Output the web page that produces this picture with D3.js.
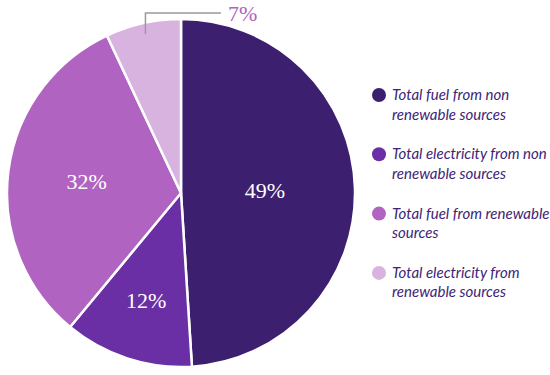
<!DOCTYPE html>
<html>
<head>
<meta charset="utf-8">
<script src="https://cdn.jsdelivr.net/npm/d3@7"></script>
<style>
  body { margin: 0; background: #fff; }
</style>
</head>
<body>
<script>
// Data
const categories = [
  "Total fuel from non renewable sources",
  "Total electricity from non renewable sources",
  "Total fuel from renewable sources",
  "Total electricity from renewable sources"
];
const values = [49, 12, 32, 7];
const legendLines = [
  ["Total fuel from non", "renewable sources"],
  ["Total electricity from non", "renewable sources"],
  ["Total fuel from renewable", "sources"],
  ["Total electricity from", "renewable sources"]
];

// Constants
const width = 550;
const height = 375;
const cx = 181;
const cy = 193;
const radius = 174;
const colors = ["#3d1f70", "#6a2ea5", "#b063c1", "#d9b3e0"];
const legendColor = "#3d2476";
// Label distance from the centre for each inside slice
const labelRadius = [84, 113, 95];

const svg = d3.select("body").append("svg")
  .attr("width", width)
  .attr("height", height);

const color = d3.scaleOrdinal().domain(categories).range(colors);

const pie = d3.pie().sort(null).value(d => d.value);
const arcs = pie(categories.map((c, i) => ({category: c, value: values[i]})));

const arc = d3.arc().innerRadius(0).outerRadius(radius);

const g = svg.append("g").attr("transform", `translate(${cx},${cy})`);

g.selectAll("path")
  .data(arcs)
  .join("path")
  .attr("d", arc)
  .attr("fill", d => color(d.data.category))
  .attr("stroke", "#fff")
  .attr("stroke-width", 2.5)
  .attr("stroke-linejoin", "round");

// Inside labels
g.selectAll("text.inside")
  .data(arcs.filter(d => d.data.value > 10))
  .join("text")
  .attr("class", "inside")
  .attr("transform", (d, i) => {
    const a = (d.startAngle + d.endAngle) / 2;
    const r = labelRadius[i];
    return `translate(${r * Math.sin(a)},${-r * Math.cos(a)})`;
  })
  .attr("text-anchor", "middle")
  .attr("dy", "0.35em")
  .attr("fill", "#fff")
  .style("font-family", "'Liberation Serif', serif")
  .style("font-size", "22px")
  .text(d => d.data.value + "%");

// Outside label with leader line for the small slice
const small = arcs.filter(d => d.data.value <= 10);
small.forEach(d => {
  const a = (d.startAngle + d.endAngle) / 2;
  const x0 = 163 * Math.sin(a);
  const y0 = -163 * Math.cos(a);
  const yTop = -radius - 6;
  const xEnd = 40;
  g.append("path")
    .attr("d", `M${x0},${y0}V${yTop}H${xEnd}`)
    .attr("fill", "none")
    .attr("stroke", "#9a9a9a")
    .attr("stroke-width", 1.5);
  g.append("text")
    .attr("x", xEnd + 7)
    .attr("y", yTop)
    .attr("dy", "0.35em")
    .attr("fill", colors[3] === color(d.data.category) ? "#b063c1" : color(d.data.category))
    .style("font-family", "'Liberation Serif', serif")
    .style("font-size", "22px")
    .text(d.data.value + "%");
});

// Legend
const legend = svg.append("g").attr("transform", "translate(379,95)");
const item = legend.selectAll("g")
  .data(categories)
  .join("g")
  .attr("transform", (d, i) => `translate(0,${i * 59.3})`);

item.append("circle")
  .attr("r", 7)
  .attr("fill", d => color(d));

item.append("text")
  .attr("x", 13)
  .attr("y", 5)
  .attr("fill", legendColor)
  .style("font-family", "Lato, sans-serif")
  .style("font-style", "italic")
  .style("font-size", "15px")
  .selectAll("tspan")
  .data((d, i) => legendLines[i])
  .join("tspan")
  .attr("x", 13)
  .attr("dy", (d, j) => j === 0 ? 0 : 19.5)
  .text(d => d);
</script>
</body>
</html>
